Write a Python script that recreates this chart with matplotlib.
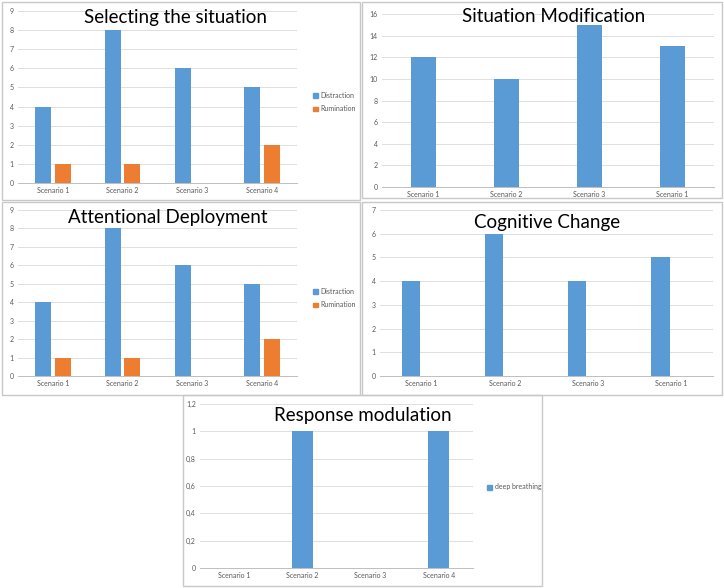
import matplotlib
matplotlib.use('Agg')
import matplotlib.pyplot as plt
import numpy as np
from matplotlib.patches import Rectangle, Patch

plt.rcParams['font.family'] = ['Lato', 'DejaVu Sans']

scenarios = ['Scenario 1', 'Scenario 2', 'Scenario 3', 'Scenario 4']
scenarios_alt = ['Scenario 1', 'Scenario 2', 'Scenario 3', 'Scenario 1']

selecting_distraction = [4, 8, 6, 5]
selecting_rumination = [1, 1, 0, 2]
modification = [12, 10, 15, 13]
attention_distraction = [4, 8, 6, 5]
attention_rumination = [1, 1, 0, 2]
cognitive = [4, 6, 4, 5]
response_breathing = [0, 1, 0, 1]

blue = '#5B9BD5'
orange = '#ED7D31'
grid_c = '#D9D9D9'
tick_c = '#595959'

W, H = 724, 588
fig = plt.figure(figsize=(W / 100, H / 100), dpi=100)


def px_axes(l, t, r, b):
    return fig.add_axes([l / W, 1 - b / H, (r - l) / W, (b - t) / H])


def box(l, t, r, b):
    fig.patches.append(Rectangle((l / W, 1 - b / H), (r - l) / W, (b - t) / H,
                                 transform=fig.transFigure, fill=False,
                                 edgecolor='#C8C8C8', lw=1.0))


def style(ax, ymax, step, labels, fmt=None):
    ax.set_xlim(-0.5, 3.5)
    ax.set_ylim(0, ymax)
    ticks = np.arange(0, ymax + step / 2, step)
    ax.set_yticks(ticks)
    if fmt:
        ax.set_yticklabels([fmt(t) for t in ticks])
    ax.set_xticks(range(4))
    ax.set_xticklabels(labels)
    ax.tick_params(length=0, labelsize=5, colors=tick_c, pad=3)
    ax.yaxis.grid(True, color=grid_c, lw=0.6)
    ax.set_axisbelow(True)
    for s in ['top', 'right', 'left']:
        ax.spines[s].set_visible(False)
    ax.spines['bottom'].set_color('#BFBFBF')
    ax.spines['bottom'].set_linewidth(0.7)


def legend(ax, handles, x, y):
    ax.legend(handles=handles, loc='center left', bbox_to_anchor=(x, y),
              bbox_transform=fig.transFigure, frameon=False, fontsize=5,
              handlelength=0.7, handleheight=0.7, handletextpad=0.35,
              labelspacing=1.0, labelcolor=tick_c, borderpad=0)


x = np.arange(4)

# panel borders
box(2, 2, 360, 200)
box(362, 2, 722, 198)
box(2, 202, 360, 395)
box(362, 202, 722, 395)
box(183, 395, 542, 586)

# Selecting the situation
ax1 = px_axes(18, 11, 297, 183)
ax1.bar(x - 0.14, selecting_distraction, 0.23, color=blue)
ax1.bar(x + 0.14, selecting_rumination, 0.23, color=orange)
style(ax1, 9, 1, scenarios)
legend(ax1, [Patch(color=blue, label='Distraction'), Patch(color=orange, label='Rumination')],
       310 / W, 1 - 102 / H)
fig.text(175 / W, 1 - 17 / H, 'Selecting the situation', ha='center', va='center', fontsize=13.5)

# Situation Modification
ax2 = px_axes(382, 14, 714, 187)
ax2.bar(x, modification, 0.3, color=blue)
style(ax2, 16, 2, scenarios_alt)
fig.text(554 / W, 1 - 17 / H, 'Situation Modification', ha='center', va='center', fontsize=13.5)

# Attentional Deployment
ax3 = px_axes(18, 210, 297, 376)
ax3.bar(x - 0.14, attention_distraction, 0.23, color=blue)
ax3.bar(x + 0.14, attention_rumination, 0.23, color=orange)
style(ax3, 9, 1, scenarios)
legend(ax3, [Patch(color=blue, label='Distraction'), Patch(color=orange, label='Rumination')],
       310 / W, 1 - 298 / H)
fig.text(168 / W, 1 - 217 / H, 'Attentional Deployment', ha='center', va='center', fontsize=13.5)

# Cognitive Change
ax4 = px_axes(380, 210, 713, 376)
ax4.bar(x - 0.13, cognitive, 0.22, color=blue)
style(ax4, 7, 1, scenarios_alt)
fig.text(547 / W, 1 - 223 / H, 'Cognitive Change', ha='center', va='center', fontsize=13.5)

# Response modulation
ax5 = px_axes(200, 404, 473, 568)
ax5.bar(x, response_breathing, 0.31, color=blue)
style(ax5, 1.2, 0.2, scenarios, fmt=lambda t: ('%g' % round(t, 1)).replace('.', ','))
legend(ax5, [Patch(color=blue, label='deep breathing')], 484 / W, 1 - 487 / H)
fig.text(363 / W, 1 - 415 / H, 'Response modulation', ha='center', va='center', fontsize=13.5)

fig.savefig('out.png', dpi=100)
